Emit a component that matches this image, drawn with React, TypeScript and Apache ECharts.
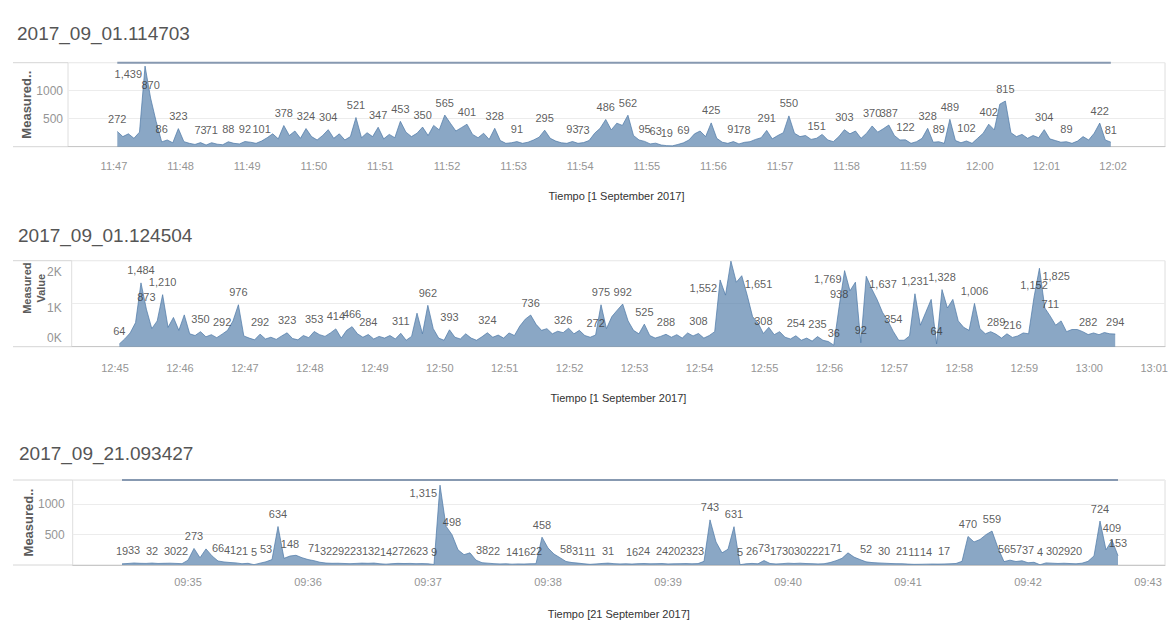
import React, { useEffect, useRef } from "react";
import * as echarts from "echarts";

// ---------- Panel 1: 2017_09_01.114703 ----------
const title1 = "2017_09_01.114703";
const xName1 = "Tiempo [1 September 2017]";
const start1 = "11:47:03"; // first sample
const step1 = 5; // seconds between samples
const values1 = [
  272, 180, 230, 150, 260, 1439, 870, 450, 86, 120,
  70, 323, 90, 60, 40, 73, 30, 71, 45, 35,
  88, 60, 50, 92, 80, 60, 101, 160, 230, 140,
  378, 200, 280, 150, 324, 180, 120, 200, 304, 150,
  230, 120, 180, 521, 160, 250, 180, 347, 140, 220,
  160, 453, 260, 180, 240, 350, 200, 380, 300, 565,
  420, 280, 340, 401, 220, 160, 240, 130, 328, 110,
  60, 70, 91, 60, 80, 120, 170, 295, 150, 100,
  70, 60, 93, 60, 73, 110, 240, 330, 486, 300,
  420, 380, 562, 200, 120, 95, 50, 63, 30, 19,
  15, 40, 69, 120, 230, 280, 180, 425, 150, 80,
  60, 91, 50, 78, 90, 130, 160, 291, 140, 200,
  250, 550, 240, 180, 200, 130, 151, 220, 120, 90,
  180, 303, 230, 280, 150, 240, 370, 260, 320, 387,
  200, 120, 122, 60, 90, 150, 328, 80, 89, 60,
  489, 110, 70, 102, 60, 150, 240, 402, 300, 760,
  815, 250, 180, 220, 150, 200, 160, 304, 140, 110,
  80, 89, 60, 100, 180, 120, 240, 422, 120, 81,
];
const labelIdx1 = [
  0, 5, 6, 8, 11, 15, 17, 20, 23, 26, 30, 34, 38, 43, 47, 51, 55, 59, 63, 68,
  72, 77, 82, 84, 88, 92, 95, 97, 99, 102, 107, 111, 113, 117, 121, 126, 131,
  136, 139, 142, 146, 148, 150, 153, 157, 160, 167, 171, 177, 179,
];
const yTicks1 = [500, 1000];

// ---------- Panel 2: 2017_09_01.124504 ----------
const title2 = "2017_09_01.124504";
const xName2 = "Tiempo [1 September 2017]";
const start2 = "12:45:04";
const step2 = 5;
const values2 = [
  64, 180, 320, 560, 1484, 873, 420, 600, 1210, 450,
  680, 380, 740, 300, 260, 350, 230, 280, 210, 292,
  380, 600, 976, 250, 200, 160, 292, 180, 220, 170,
  250, 323, 190, 160, 260, 210, 353, 280, 240, 320,
  414, 200, 380, 466, 300, 220, 284, 180, 240, 200,
  260, 180, 311, 150, 240, 780, 300, 962, 420, 200,
  150, 393, 220, 180, 300, 200, 150, 230, 324, 220,
  270, 200, 320, 260, 480, 640, 736, 520, 380, 420,
  300, 360, 326, 430, 300, 380, 260, 220, 272, 975,
  420, 700, 850, 992, 600, 380, 300, 525, 260, 200,
  240, 288, 220, 280, 200, 320, 250, 308, 200, 260,
  350, 1552, 1200, 1990, 1500, 1651, 1200, 700, 550, 308,
  450, 280, 350, 220, 180, 254, 150, 200, 130, 235,
  150, 120, 36, 938, 1769, 1300, 1500, 92, 1637, 1350,
  1100, 800, 600, 354, 150, 150, 250, 1231, 500, 800,
  1100, 64, 1328, 900, 1100, 600, 450, 380, 1006, 420,
  300, 350, 289, 200, 300, 216, 250, 320, 300, 1152,
  1825, 900, 711, 500, 600, 350, 400, 400, 350, 282,
  320, 280, 330, 300, 294,
];
const labelIdx2 = [
  0, 4, 5, 8, 15, 19, 22, 26, 31, 36, 40, 43, 46, 52, 57, 61, 68, 76, 82, 88,
  89, 93, 97, 101, 107, 111, 115, 119, 125, 129, 132, 133, 134, 137, 138, 143,
  147, 151, 152, 158, 162, 165, 169, 170, 172, 179, 184,
];
const yTicks2 = [0, 1000, 2000];
const yTickText2 = ["0K", "1K", "2K"];

// ---------- Panel 3: 2017_09_21.093427 ----------
const title3 = "2017_09_21.093427";
const xName3 = "Tiempo [21 September 2017]";
const start3 = "09:34:27";
const step3 = 3;
const values3 = [
  19, 25, 33, 28, 26, 32, 25, 28, 30, 26,
  22, 80, 273, 120, 265, 150, 66, 50, 41, 35,
  21, 28, 5, 30, 53, 90, 634, 110, 148, 160,
  120, 90, 71, 45, 32, 28, 29, 25, 22, 26,
  31, 28, 32, 20, 14, 22, 27, 24, 26, 22,
  23, 20, 9, 1315, 640, 498, 250, 170, 200, 80,
  38, 30, 22, 18, 20, 14, 18, 16, 20, 22,
  458, 280, 180, 120, 58, 40, 31, 20, 11, 18,
  25, 31, 22, 18, 20, 16, 22, 24, 20, 22,
  24, 18, 20, 22, 23, 20, 23, 60, 743, 380,
  200, 260, 631, 5, 20, 26, 20, 73, 25, 17,
  22, 30, 25, 30, 24, 22, 18, 21, 40, 71,
  110, 200, 130, 90, 52, 40, 35, 30, 25, 22,
  21, 15, 11, 12, 14, 16, 15, 17, 20, 25,
  60, 470, 380, 420, 500, 559, 280, 56, 80, 57,
  70, 37, 45, 4, 35, 30, 25, 29, 24, 20,
  30, 60, 150, 724, 250, 409, 153,
];
const labelIdx3 = [
  0, 2, 5, 8, 10, 12, 16, 18, 20, 22, 24, 26, 28, 32, 34, 36, 38, 40, 42, 44,
  46, 48, 50, 52, 53, 55, 60, 62, 65, 67, 69, 70, 74, 76, 78, 81, 85, 87, 90,
  92, 94, 96, 98, 102, 103, 105, 107, 109, 111, 113, 115, 117, 119, 124,
  127, 130, 132, 134, 137, 141, 145, 147, 149, 151, 153, 155, 157, 159, 163,
  165, 166,
];
const yTicks3 = [500, 1000];

// ---------- helpers ----------
const hms = (s: string) => {
  const [h, m, sec] = s.split(":").map(Number);
  return h * 3600 + m * 60 + sec;
};
const pad = (n: number) => String(n).padStart(2, "0");
const fmtHM = (v: number) => {
  const mins = Math.round(v / 60);
  return pad(Math.floor(mins / 60)) + ":" + pad(mins % 60);
};
const minutesBetween = (a: number, b: number) => {
  const out: number[] = [];
  for (let m = Math.ceil(a / 60) * 60; m <= b; m += 60) out.push(m);
  return out;
};

const SANS = "'Liberation Sans', Arial, sans-serif";
const BLUE = "#4e79a7";
const TICK_GREY = "#959595";

function buildOption() {
  const panels = [
    {
      title: title1, xName: xName1, values: values1, labels: labelIdx1,
      t0: hms(start1), step: step1,
      xMin: hms("11:46:18") + 0.6, xMax: hms("12:02:46") + 0.8,
      yMax: 1500, yInterval: 500,
      yFmt: (v: number) => (yTicks1.includes(v) ? String(v) : ""),
      yName: "Measured..", yNameGap: 35, yNameSize: 13, yNamePad: [0, 0, 0, 0],
      left: 68, top: 62.7, height: 84,
      titleTop: 24, titleLeft: 17,
      xLabelMargin: 14, xNameGap: 44, yLabelMargin: 5,
      extentLine: true,
    },
    {
      title: title2, xName: xName2, values: values2, labels: labelIdx2,
      t0: hms(start2), step: step2,
      xMin: hms("12:44:20"), xMax: hms("13:01:10"),
      yMax: 2000, yInterval: 1000,
      yFmt: (v: number) => {
        const k = yTicks2.indexOf(v);
        if (k < 0) return "";
        const key = k === 0 ? "b" : k === yTicks2.length - 1 ? "t" : "m";
        return "{" + key + "|" + yTickText2[k] + "}";
      },
      yName: "Measured\nValue", yNameGap: 24, yNameSize: 11, yNamePad: [0, 0, 0, 31],
      left: 71.7, top: 260.7, height: 86,
      titleTop: 226, titleLeft: 18,
      xLabelMargin: 16, xNameGap: 46, yLabelMargin: 10,
      extentLine: false,
    },
    {
      title: title3, xName: xName3, values: values3, labels: labelIdx3,
      t0: hms(start3), step: step3,
      xMin: hms("09:34:02") + 0.35, xMax: hms("09:43:08") + 0.5,
      yMax: 1400, yInterval: 500,
      yFmt: (v: number) => (yTicks3.includes(v) ? String(v) : ""),
      yName: "Measured..", yNameGap: 37, yNameSize: 13, yNamePad: [0, 0, 0, 0],
      left: 72.7, top: 480, height: 85,
      titleTop: 444, titleLeft: 19,
      xLabelMargin: 11, xNameGap: 43, yLabelMargin: 8,
      extentLine: true,
    },
  ];
  const RIGHT = 1165;

  const grid: any[] = [];
  const xAxis: any[] = [];
  const yAxis: any[] = [];
  const series: any[] = [];
  const title: any[] = [];
  const graphic: any[] = [];

  panels.forEach((p, k) => {
    grid.push({
      left: p.left, top: p.top, width: RIGHT - p.left, height: p.height,
      show: true, borderColor: "#dedede", borderWidth: 1, backgroundColor: "transparent",
      containLabel: false, outerBoundsMode: "none",
    });
    title.push({
      text: p.title, left: p.titleLeft, top: p.titleTop, padding: 0,
      textStyle: { fontSize: 19, fontWeight: "normal", color: "#555", fontFamily: SANS },
    });
    xAxis.push({
      type: "value", gridIndex: k, min: p.xMin, max: p.xMax,
      axisLine: { show: true, lineStyle: { color: "#c8c8c8", width: 1 } },
      axisTick: { show: false },
      splitLine: { show: false },
      axisLabel: {
        customValues: minutesBetween(p.xMin, p.xMax),
        formatter: (v: number) => fmtHM(v),
        color: TICK_GREY, fontSize: 11, fontFamily: SANS, margin: p.xLabelMargin,
      },
      name: p.xName, nameLocation: "middle", nameGap: p.xNameGap, nameMoveOverlap: false,
      nameTextStyle: { color: "#333", fontSize: 11, fontFamily: SANS },
    });
    yAxis.push({
      type: "value", gridIndex: k, min: 0, max: p.yMax, interval: p.yInterval,
      axisLine: { show: false }, axisTick: { show: false },
      splitLine: { show: true, lineStyle: { color: "#ececec", width: 1 } },
      axisLabel: {
        formatter: p.yFmt, color: TICK_GREY, fontSize: 12, fontFamily: SANS, margin: p.yLabelMargin,
        rich: {
          t: { padding: [22, 0, 0, 0], color: TICK_GREY, fontSize: 12, fontFamily: SANS },
          m: { padding: [8, 0, 0, 0], color: TICK_GREY, fontSize: 12, fontFamily: SANS },
          b: { padding: [0, 0, 18, 0], color: TICK_GREY, fontSize: 12, fontFamily: SANS },
        },
      },
      name: p.yName, nameLocation: "middle", nameRotate: 90, nameGap: p.yNameGap, nameMoveOverlap: false,
      nameTextStyle: {
        color: "#5a5a5a", fontSize: p.yNameSize, fontWeight: "bold", fontFamily: SANS,
        lineHeight: 14, padding: p.yNamePad, align: "center",
      },
    });

    const times = p.values.map((_, i) => p.t0 + i * p.step);
    series.push({
      type: "line", xAxisIndex: k, yAxisIndex: k,
      data: p.values.map((v, i) => [times[i], v]),
      showSymbol: false, symbol: "none", silent: true, z: 2,
      lineStyle: { width: 0.8, color: BLUE, opacity: 0.9 },
      itemStyle: { color: BLUE },
      areaStyle: { color: BLUE, opacity: 0.66 },
    });
    if (p.extentLine) {
      series.push({
        type: "line", xAxisIndex: k, yAxisIndex: k,
        data: [[times[0], p.yMax], [times[times.length - 1], p.yMax]],
        showSymbol: false, symbol: "none", silent: true, clip: false, z: 4,
        lineStyle: { width: 2, color: "#8799b1" },
      });
    }
    const gTop = p.top;
    const vals = p.values;
    const idx = p.labels;
    series.push({
      type: "scatter", xAxisIndex: k, yAxisIndex: k,
      data: idx.map((i) => [times[i], vals[i]]),
      symbolSize: 2, silent: true, z: 6,
      itemStyle: { color: "rgba(0,0,0,0)" },
      label: {
        show: true, position: "top", distance: 6,
        formatter: (q: any) => Number(q.value[1]).toLocaleString("en-US"),
        color: "#333", fontSize: 11, fontFamily: SANS,
      },
      labelLayout: (params: any) => {
        const lr = params.labelRect;
        const r = params.rect;
        if (!lr || !r) return {};
        if (lr.y >= gTop + 4) return {};
        const i = idx[params.dataIndex];
        const leftMax = Math.max(vals[i - 1] ?? 0, vals[i - 2] ?? 0);
        const rightMax = Math.max(vals[i + 1] ?? 0, vals[i + 2] ?? 0);
        const toLeft = leftMax <= rightMax;
        const px = r.x + r.width / 2;
        const py = r.y + r.height / 2;
        return {
          x: toLeft ? px - 3 : px + 3,
          y: Math.max(py + 8, gTop + 9),
          align: toLeft ? "right" : "left",
          verticalAlign: "middle",
        };
      },
    });

    // pane edge lines extending into the axis-label column
    [p.top, p.top + p.height].forEach((y) => {
      graphic.push({
        type: "line", silent: true, z: 1,
        shape: { x1: 13, y1: y, x2: p.left, y2: y },
        style: { stroke: "#d6d6d6", lineWidth: 1 },
      });
    });
  });

  return {
    animation: false,
    backgroundColor: "#ffffff",
    title, grid, xAxis, yAxis, series, graphic,
    tooltip: { show: false },
  };
}

export default function App() {
  const ref = useRef<HTMLDivElement>(null);
  useEffect(() => {
    document.body.style.margin = "0";
    if (!ref.current) return;
    const chart = echarts.init(ref.current, null, { renderer: "svg" });
    chart.setOption(buildOption() as any);
    return () => chart.dispose();
  }, []);
  return (
    <div
      ref={ref}
      style={{ position: "absolute", left: 0, top: 0, width: 1169, height: 626, background: "#fff" }}
    />
  );
}
